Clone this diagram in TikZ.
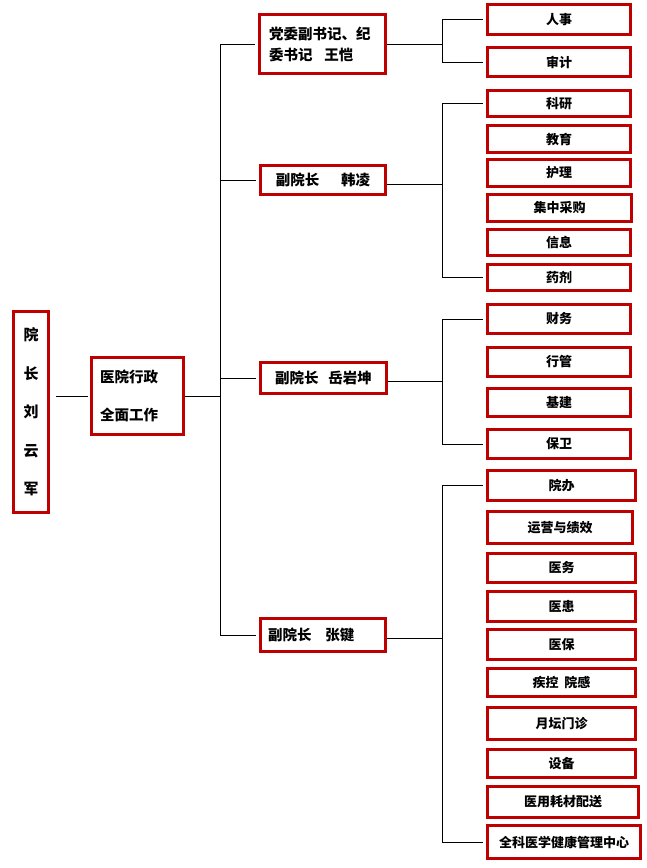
\documentclass[tikz,border=0pt]{standalone}
\usepackage{fontspec}
\newfontfamily\cjk{Noto Sans CJK SC}
\definecolor{boxred}{RGB}{190,0,0}
\begin{document}
\begin{tikzpicture}[x=1pt,y=-1pt,
  rbox/.style={draw=boxred, line width=3pt, fill=white, inner sep=0pt,
    font=\cjk\bfseries\fontsize{14.5}{18}\selectfont},
  sbox/.style={rbox, minimum width=143pt, font=\cjk\bfseries\fontsize{13}{16}\selectfont},
  wbox/.style={sbox, minimum width=148pt},
  conn/.style={line width=1pt, black}]
\useasboundingbox[fill=white] (0,0) rectangle (646,868);
% left boxes
\node[rbox, minimum width=35pt, minimum height=201pt, align=center,
  font=\cjk\bfseries\fontsize{15}{38.5}\selectfont] (ceo) at (31,412) {院\\长\\刘\\云\\军};
\node[rbox, minimum width=92pt, minimum height=77pt, align=left, text width=75pt,
  font=\cjk\bfseries\fontsize{14.5}{38}\selectfont] (admin) at (137.5,396) {医院行政\\全面工作};
% deputy boxes
\node[rbox, minimum width=126pt, minimum height=59pt, align=left, text width=107pt,
  font=\cjk\bfseries\fontsize{14.5}{21}\selectfont] (dw) at (322.5,44) {党委副书记、纪\\委书记\hspace{12pt}王恺};
\node[rbox, minimum width=125pt, minimum height=29pt] (han) at (323,180) {副院长\hspace{22pt}韩凌};
\node[rbox, minimum width=126pt, minimum height=31pt] (yue) at (323.5,378) {副院长\hspace{10pt}岳岩坤};
\node[rbox, minimum width=125pt, minimum height=33pt, align=left, text width=110pt] (zhang) at (323,635) {副院长\hspace{14pt}张键};
% group 1
\node[sbox, minimum height=30pt] (renshi) at (559,19.5) {人事};
\node[sbox, minimum height=29pt] (shenji) at (559,62) {审计};
% group 2
\node[sbox, minimum height=26pt] (keyan) at (559,103.5) {科研};
\node[sbox, minimum height=27pt] (jiaoyu) at (559,139) {教育};
\node[sbox, minimum height=27pt] (huli) at (559,173) {护理};
\node[sbox, minimum height=27pt, minimum width=144pt] (caigou) at (559.5,208) {集中采购};
\node[sbox, minimum height=26pt] (xinxi) at (559,242.5) {信息};
\node[sbox, minimum height=26pt] (yaoji) at (559,277.5) {药剂};
% group 3
\node[sbox, minimum height=29pt] (caiwu) at (559,319) {财务};
\node[sbox, minimum height=29pt] (xingguan) at (559,362) {行管};
\node[sbox, minimum height=28pt] (jijian) at (559,402.5) {基建};
\node[sbox, minimum height=29pt] (baowei) at (559,444) {保卫};
% group 4
\node[wbox, minimum height=30pt] (yuanban) at (561.5,485.5) {院办};
\node[wbox, minimum height=32pt, minimum width=145pt] (yunying) at (560,527.5) {运营与绩效};
\node[wbox, minimum height=29pt] (yiwu) at (561.5,568) {医务};
\node[wbox, minimum height=30pt] (yihuan) at (561.5,606.5) {医患};
\node[wbox, minimum height=30pt] (yibao) at (561.5,644.5) {医保};
\node[wbox, minimum height=28pt] (jikong) at (561.5,682.5) {疾控\hspace{6pt}院感};
\node[wbox, minimum height=32pt] (yuetan) at (561.5,723.5) {月坛门诊};
\node[wbox, minimum height=28pt] (shebei) at (561.5,763.5) {设备};
\node[wbox, minimum height=31pt, minimum width=151pt] (haocai) at (563,802) {医用耗材配送};
\node[wbox, minimum height=33pt, minimum width=153pt] (quanke) at (564,842) {全科医学健康管理中心};
% connectors
\coordinate (tk) at (220,0);
\coordinate (st) at (442,0);
\draw[conn, shorten <=6pt, shorten >=2pt] (ceo.east |- admin.west) -- (admin.west);
\draw[conn] (admin.east) -- (admin.east -| tk);
\draw[conn, shorten >=3pt] (dw.west -| tk) -- (dw.west);
\draw[conn] (dw.west -| tk) -- (zhang.west -| tk);
\draw[conn, shorten >=3pt] (zhang.west -| tk) -- (zhang.west);
\draw[conn, shorten >=3pt] (han.west -| tk) -- (han.west);
\draw[conn, shorten >=3pt] (yue.west -| tk) -- (yue.west);
% group 1
\draw[conn] (dw.east) -- (dw.east -| st);
\draw[conn] (renshi.west -| st) -- (shenji.west -| st);
\draw[conn, shorten >=3pt] (renshi.west -| st) -- (renshi.west);
\draw[conn, shorten >=3pt] (shenji.west -| st) -- (shenji.west);
% group 2
\draw[conn] ([yshift=-4pt]han.east) -- ([yshift=-4pt]han.east -| st);
\draw[conn] (keyan.west -| st) -- (yaoji.west -| st);
\draw[conn, shorten >=3pt] (keyan.west -| st) -- (keyan.west);
\draw[conn, shorten >=3pt] (yaoji.west -| st) -- (yaoji.west);
% group 3
\draw[conn] ([yshift=-3pt]yue.east) -- ([yshift=-3pt]yue.east -| st);
\draw[conn] (caiwu.west -| st) -- (baowei.west -| st);
\draw[conn, shorten >=3pt] (caiwu.west -| st) -- (caiwu.west);
\draw[conn, shorten >=3pt] (baowei.west -| st) -- (baowei.west);
% group 4
\draw[conn] ([yshift=-3pt]zhang.east) -- ([yshift=-3pt]zhang.east -| st);
\draw[conn] (yuanban.west -| st) -- (quanke.west -| st);
\draw[conn, shorten >=3pt] (yuanban.west -| st) -- (yuanban.west);
\draw[conn, shorten >=3pt] (quanke.west -| st) -- (quanke.west);
\end{tikzpicture}
\end{document}
